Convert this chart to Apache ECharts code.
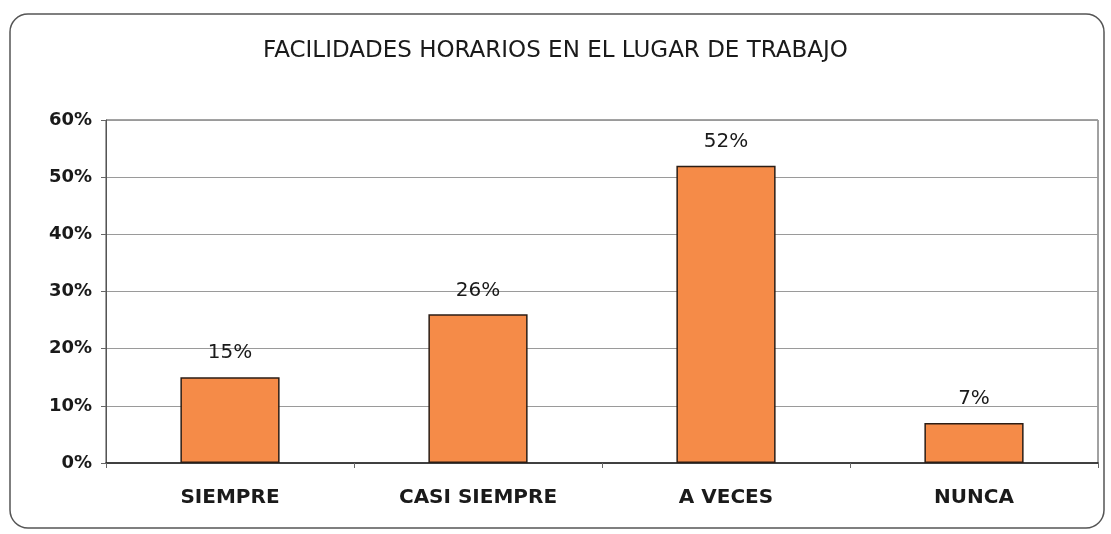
<!DOCTYPE html>
<html>
<head>
<meta charset="utf-8">
<script src="https://cdn.jsdelivr.net/npm/echarts@6/dist/echarts.min.js"></script>
<style>
html,body{margin:0;padding:0;background:#fff;}
#chart{width:1111px;height:534px;}
</style>
</head>
<body>
<div id="chart"></div>
<script>
// datos del grafico
var categorias = ['SIEMPRE', 'CASI SIEMPRE', 'A VECES', 'NUNCA'];
var valores = [15, 26, 52, 7];
var ticksY = [0, 10, 20, 30, 40, 50, 60];

var myChart = echarts.init(document.getElementById('chart'));

var option = {
	backgroundColor: '#fff',
	title: {
		text: 'FACILIDADES HORARIOS EN EL LUGAR DE TRABAJO',
		left: 'center',
		top: 35,
		textStyle: {
			fontFamily: 'DejaVu Sans',
			fontSize: 23,
			fontWeight: 'normal',
			color: '#1a1a1a'
		}
	},
	graphic: [{
		type: 'rect',
		shape: {x: 10, y: 14, width: 1094, height: 514, r: 18},
		style: {fill: 'none', stroke: '#555', lineWidth: 1.5},
		z: -1
	}],
	grid: {
		left: 106, right: 13, top: 120, bottom: 71,
		show: true,
		borderColor: '#444',
		borderWidth: 1
	},
	xAxis: {
		type: 'category',
		data: categorias,
		axisLine: {lineStyle: {color: '#222', width: 1.5}},
		axisTick: {show: true, length: 5, lineStyle: {color: '#666'}},
		axisLabel: {
			margin: 25,
			fontFamily: 'DejaVu Sans',
			fontSize: 20,
			fontWeight: 'bold',
			color: '#1a1a1a'
		}
	},
	yAxis: {
		type: 'value',
		min: ticksY[0],
		max: ticksY[ticksY.length - 1],
		interval: 10,
		axisLine: {show: true, lineStyle: {color: '#555'}},
		axisTick: {show: true, length: 5, lineStyle: {color: '#666'}},
		splitLine: {lineStyle: {color: '#9a9a9a', width: 1}},
		axisLabel: {
			formatter: '{value}%',
			margin: 14,
			fontFamily: 'DejaVu Sans',
			fontSize: 18,
			fontWeight: 'bold',
			color: '#1a1a1a'
		}
	},
	series: [{
		type: 'bar',
		data: valores,
		barWidth: '40%',
		itemStyle: {
			color: '#F58B48',
			borderColor: '#2b1d15',
			borderWidth: 1.5
		},
		label: {
			show: true,
			position: 'top',
			distance: 14,
			formatter: '{c}%',
			fontFamily: 'DejaVu Sans',
			fontSize: 20,
			color: '#1a1a1a'
		}
	}]
};

myChart.setOption(option, true);
</script>
</body>
</html>
